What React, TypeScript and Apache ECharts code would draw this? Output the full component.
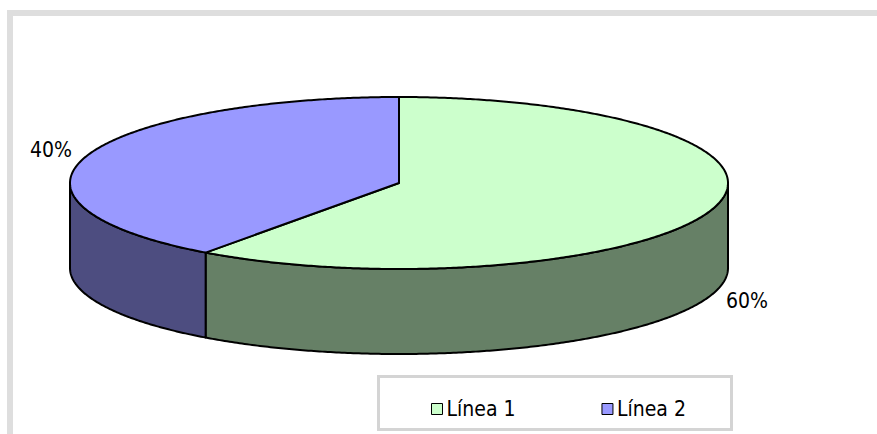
import React, { useEffect, useRef } from "react";
import * as echarts from "echarts";

const categories = ["Línea 1", "Línea 2"];
const values = [60, 40];
const topColors = ["#CCFFCC", "#9999FF"];
const sideColors = ["#668066", "#4D4D80"];

const CX = 399;
const CY = 183;
const RX = 329;
const RY = 86;
const DEPTH = 85;
const FAMILY = "'DejaVu Sans Condensed', 'DejaVu Sans', Verdana, sans-serif";
const FONT = "21px " + FAMILY;

const total = values.reduce((a, b) => a + b, 0);

function pt(deg: number, dy = 0): number[] {
  const r = (deg * Math.PI) / 180;
  return [CX + RX * Math.sin(r), CY - RY * Math.cos(r) + dy];
}

function arcPoints(a: number, b: number, dy = 0): number[][] {
  const pts: number[][] = [];
  const n = Math.max(2, Math.ceil(Math.abs(b - a) * 2));
  for (let i = 0; i <= n; i++) pts.push(pt(a + ((b - a) * i) / n, dy));
  return pts;
}

function makeRenderItem(idx: number) {
  return (params: any, api: any) => {
    const v = api.value(0);
    let before = 0;
    for (let i = 0; i < idx; i++) before += values[i];
    const start = (before / total) * 360;
    const end = start + (v / total) * 360;
    const children: any[] = [];
    const a = Math.max(start, 90);
    const b = Math.min(end, 270);
    if (a < b) {
      const pts = arcPoints(a, b, 0).concat(arcPoints(b, a, DEPTH));
      children.push({
        type: "polygon",
        z2: 1,
        shape: { points: pts },
        style: { fill: sideColors[idx], stroke: "#000", lineWidth: 2, lineJoin: "round" },
      });
    }
    const topPts = [[CX, CY]].concat(arcPoints(start, end, 0));
    children.push({
      type: "polygon",
      z2: 2,
      shape: { points: topPts },
      style: { fill: topColors[idx], stroke: "#000", lineWidth: 2, lineJoin: "round" },
    });
    const mid = (start + end) / 2;
    const r = (mid * Math.PI) / 180;
    const front = Math.cos(r) < 0;
    const lx = CX + (RX + 37) * Math.sin(r);
    const ly = CY - (RY + 22) * Math.cos(r) + (front ? DEPTH : 0);
    children.push({
      type: "text",
      z2: 3,
      x: lx,
      y: ly,
      style: {
        text: Math.round((v / total) * 100) + "%",
        fill: "#000",
        font: FONT,
        align: "center",
        verticalAlign: "middle",
      },
    });
    return { type: "group", children };
  };
}

export default function App() {
  const ref = useRef<HTMLDivElement>(null);
  useEffect(() => {
    if (!ref.current) return;
    const chart = echarts.init(ref.current, undefined, { renderer: "svg" });
    chart.setOption({
      animation: false,
      backgroundColor: "#ffffff",
      legend: {
        data: categories,
        left: 426,
        top: 393,
        itemWidth: 11,
        itemHeight: 11,
        itemGap: 86,
        icon: "rect",
        selectedMode: false,
        itemStyle: { borderColor: "#000", borderWidth: 1 },
        textStyle: {
          fontFamily: FAMILY,
          fontSize: 21,
          color: "#000",
          lineHeight: 22,
          padding: [0, 0, 0, -1],
        },
      },
      graphic: [
        {
          type: "rect",
          silent: true,
          shape: { x: 10, y: 13, width: 900, height: 500 },
          style: { fill: "none", stroke: "#dedede", lineWidth: 6 },
        },
        {
          type: "rect",
          silent: true,
          shape: { x: 378.5, y: 376.5, width: 353, height: 53 },
          style: { fill: "none", stroke: "#d4d4d4", lineWidth: 3 },
        },
      ],
      series: categories.map((name, i) => ({
        type: "custom",
        name,
        coordinateSystem: "none",
        silent: true,
        color: topColors[i],
        itemStyle: { color: topColors[i] },
        data: [values[i]],
        renderItem: makeRenderItem(i),
      })),
    });
    return () => chart.dispose();
  }, []);
  return (
    <div
      ref={ref}
      style={{ position: "fixed", left: 0, top: 0, width: 877, height: 434, background: "#fff" }}
    />
  );
}
